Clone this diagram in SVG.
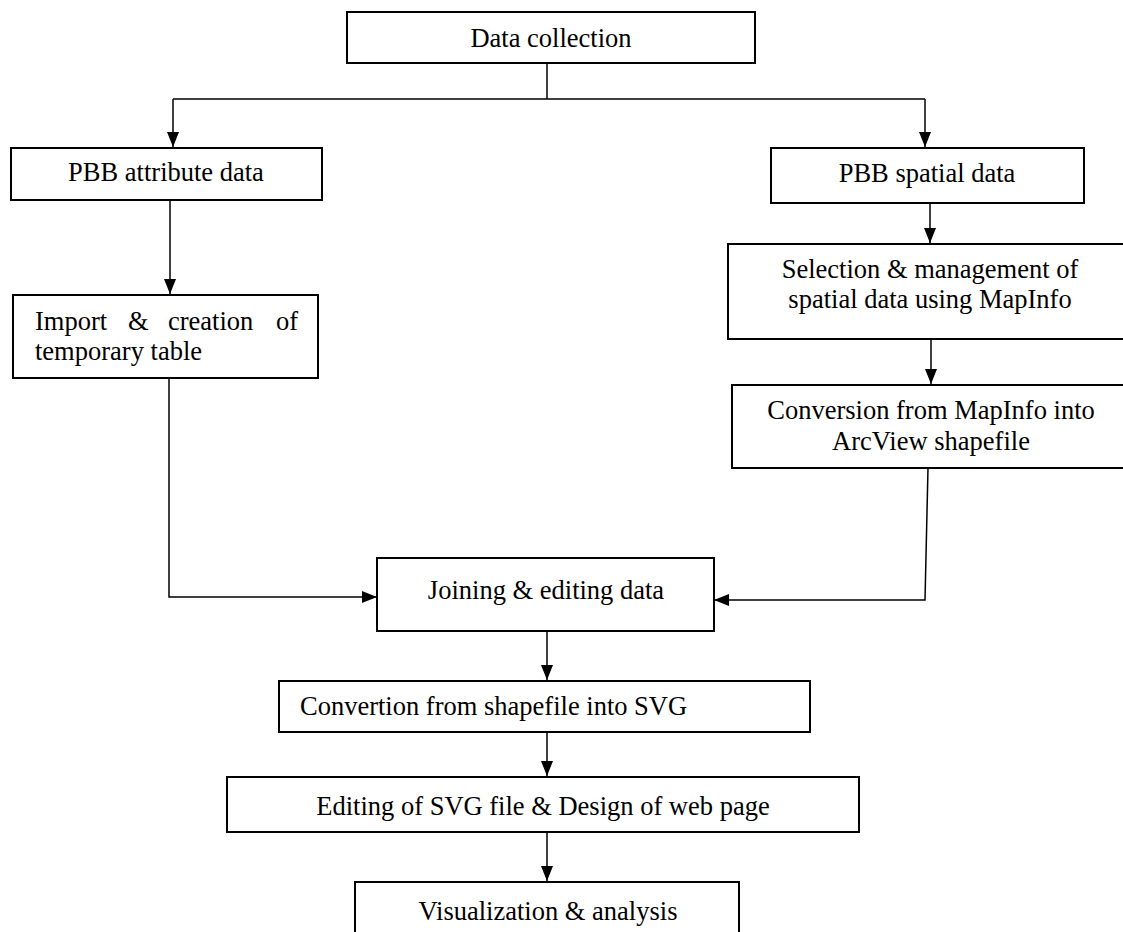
<svg xmlns="http://www.w3.org/2000/svg" width="1123" height="932" viewBox="0 0 1123 932">
<style>
.box{fill:#fff;stroke:#000;stroke-width:2}
.t{font-family:'Liberation Serif','Times New Roman','DejaVu Serif',serif;font-size:26.5px;fill:#000}
.c{text-anchor:middle}
.e{text-anchor:end}
.ln{fill:none;stroke:#000;stroke-width:1.5}
</style>
<defs>
<marker id="ah" markerUnits="userSpaceOnUse" markerWidth="15" markerHeight="12" viewBox="0 0 15 12" refX="15" refY="6" orient="auto">
<path d="M0,0 L15,6 L0,12 Z" fill="#000"/>
</marker>
</defs>
<g id="connectors">
<path class="ln" d="M547,63 V99"/>
<path class="ln" d="M173,99 H925"/>
<path class="ln" d="M173,99 V147" marker-end="url(#ah)"/>
<path class="ln" d="M925,99 V147" marker-end="url(#ah)"/>
<path class="ln" d="M930,203 V243" marker-end="url(#ah)"/>
<path class="ln" d="M170,200 V294" marker-end="url(#ah)"/>
<path class="ln" d="M931,339 V384" marker-end="url(#ah)"/>
<path class="ln" d="M169,378 V597 H377" marker-end="url(#ah)"/>
<path class="ln" d="M928,468 L925,600 H714" marker-end="url(#ah)"/>
<path class="ln" d="M547,631 V680" marker-end="url(#ah)"/>
<path class="ln" d="M547,732 V776" marker-end="url(#ah)"/>
<path class="ln" d="M547,832 V881" marker-end="url(#ah)"/>
</g>
<g id="n-data-collection">
<rect class="box" x="347" y="12" width="408" height="51"/>
<text class="t c" x="551" y="47">Data collection</text>
</g>
<g id="n-pbb-attribute">
<rect class="box" x="11" y="148" width="311" height="52"/>
<text class="t c" x="166" y="181">PBB attribute data</text>
</g>
<g id="n-pbb-spatial">
<rect class="box" x="771" y="148" width="313" height="55"/>
<text class="t c" x="927" y="182">PBB spatial data</text>
</g>
<g id="n-selection">
<rect class="box" x="728" y="244" width="400" height="95"/>
<text class="t c" x="930" y="278">Selection &amp; management of</text>
<text class="t c" x="930" y="308">spatial data using MapInfo</text>
</g>
<g id="n-import">
<rect class="box" x="13" y="295" width="305" height="83"/>
<text class="t" x="35" y="330">Import</text>
<text class="t" x="128" y="330">&amp;</text>
<text class="t" x="168" y="330">creation</text>
<text class="t e" x="298" y="330">of</text>
<text class="t" x="35" y="360">temporary table</text>
</g>
<g id="n-conversion">
<rect class="box" x="732" y="385" width="396" height="83"/>
<text class="t c" x="931" y="419">Conversion from MapInfo into</text>
<text class="t c" x="931" y="450">ArcView shapefile</text>
</g>
<g id="n-joining">
<rect class="box" x="377" y="558" width="337" height="73"/>
<text class="t c" x="546" y="599">Joining &amp; editing data</text>
</g>
<g id="n-convertion-svg">
<rect class="box" x="279" y="681" width="531" height="51"/>
<text class="t" x="300" y="715">Convertion from shapefile into SVG</text>
</g>
<g id="n-editing">
<rect class="box" x="227" y="777" width="632" height="55"/>
<text class="t c" x="543" y="815">Editing of SVG file &amp; Design of web page</text>
</g>
<g id="n-visualization">
<rect class="box" x="355" y="882" width="384" height="60"/>
<text class="t c" x="548" y="920">Visualization &amp; analysis</text>
</g>
</svg>
